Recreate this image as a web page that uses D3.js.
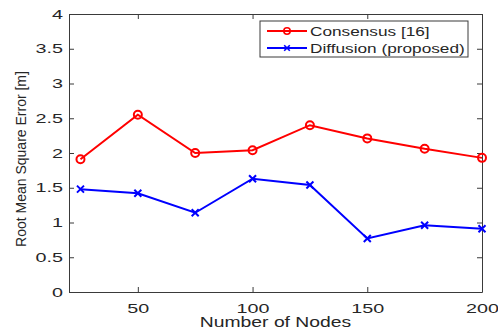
<!DOCTYPE html>
<html>
<head>
<meta charset="utf-8">
<script src="https://cdn.jsdelivr.net/npm/d3@7"></script>
<style>
	body { margin: 0; background: #fff; }
	svg { display: block; font-family: "Liberation Sans", Arial, sans-serif; }
</style>
</head>
<body>
<svg id="chart" width="498" height="332"></svg>
<script>
var aNodes = [25, 50, 75, 100, 125, 150, 175, 200];
var aConsensus = [1.91, 2.55, 2.00, 2.04, 2.40, 2.21, 2.06, 1.93];
var aDiffusion = [1.48, 1.42, 1.14, 1.63, 1.54, 0.77, 0.96, 0.91];
var aXTicks = [50, 100, 150, 200];
var aYTicks = [0, 0.5, 1, 1.5, 2, 2.5, 3, 3.5, 4];
var aSeriesNames = ['Consensus [16]', 'Diffusion (proposed)'];

var sSvg = d3.select('#chart');
var nWidth = 498, nHeight = 332;
var margin = {left: 69, right: 16, top: 14, bottom: 40};
var fStretch = 1.38; // text in the picture is horizontally stretched
var fTickStretch = 1.58;
var strAxisColor = '#3a3a3a';

var x = d3.scaleLinear().domain([20, 200]).range([margin.left, nWidth - margin.right]);
var y = d3.scaleLinear().domain([0, 4]).range([nHeight - margin.bottom, margin.top]);

// axes box with inward ticks
function StyleAxis(g)
{
	g.selectAll('path.domain').attr('stroke', strAxisColor).attr('stroke-width', 1);
	g.selectAll('.tick line').attr('stroke', strAxisColor);
	g.selectAll('.tick text').attr('fill', '#262626').style('font-size', '12.5px');
}

sSvg.append('g')
	.attr('transform', 'translate(0,' + y(0) + ')')
	.call(d3.axisBottom(x).tickValues(aXTicks).tickSize(-5).tickSizeOuter(0).tickPadding(10))
	.call(StyleAxis)
	.call(function(g)
	{
		g.selectAll('.tick text').attr('transform', 'scale(' + fTickStretch + ',1)').attr('dy', '0.85em');
	});

sSvg.append('g')
	.attr('transform', 'translate(0,' + y(4) + ')')
	.call(d3.axisTop(x).tickValues(aXTicks).tickSize(-5).tickSizeOuter(0).tickFormat(''))
	.call(StyleAxis);

sSvg.append('g')
	.attr('transform', 'translate(' + x(20) + ',0)')
	.call(d3.axisLeft(y).tickValues(aYTicks).tickSize(-5).tickSizeOuter(0).tickPadding(0).tickFormat(d3.format('')))
	.call(StyleAxis)
	.call(function(g)
	{
		g.selectAll('.tick text').attr('x', -6 / fTickStretch).attr('transform', 'scale(' + fTickStretch + ',1)');
	});

sSvg.append('g')
	.attr('transform', 'translate(' + x(200) + ',0)')
	.call(d3.axisRight(y).tickValues(aYTicks).tickSize(-5).tickSizeOuter(0).tickFormat(''))
	.call(StyleAxis);

// axis titles
sSvg.append('text')
	.attr('transform', 'translate(' + ((margin.left + nWidth - margin.right) / 2) + ',327) scale(' + fStretch + ',1)')
	.attr('text-anchor', 'middle')
	.attr('fill', '#262626')
	.style('font-size', '14px')
	.text('Number of Nodes');

sSvg.append('text')
	.attr('transform', 'translate(26,159) rotate(-90)')
	.attr('text-anchor', 'middle')
	.attr('fill', '#262626')
	.style('font-size', '14px')
	.text('Root Mean Square Error [m]');

// series
var aSeries = [
	{name: aSeriesNames[0], values: aConsensus, color: '#ff0000', marker: 'circle'},
	{name: aSeriesNames[1], values: aDiffusion, color: '#0000ff', marker: 'cross'}
];

var line = d3.line()
	.x(function(d) { return x(d[0]); })
	.y(function(d) { return y(d[1]); });

function DrawMarker(g, strMarker, strColor)
{
	if (strMarker == 'circle')
	{
		g.append('circle')
			.attr('r', 4)
			.attr('fill', 'none')
			.attr('stroke', strColor)
			.attr('stroke-width', 2);
	}
	else
	{
		g.append('path')
			.attr('d', 'M-3.5,-3.5L3.5,3.5M-3.5,3.5L3.5,-3.5')
			.attr('fill', 'none')
			.attr('stroke', strColor)
			.attr('stroke-width', 2);
	}
}

aSeries.forEach(function(series)
{
	var aPoints = aNodes.map(function(n, i) { return [n, series.values[i]]; });

	sSvg.append('path')
		.datum(aPoints)
		.attr('d', line)
		.attr('fill', 'none')
		.attr('stroke', series.color)
		.attr('stroke-width', 2);

	sSvg.selectAll(null)
		.data(aPoints)
		.enter()
		.append('g')
			.attr('transform', function(d) { return 'translate(' + x(d[0]) + ',' + y(d[1]) + ')'; })
			.each(function() { DrawMarker(d3.select(this), series.marker, series.color); });
});

// legend
var sLegend = sSvg.append('g').attr('transform', 'translate(260,21)');

sLegend.append('rect')
	.attr('width', 208)
	.attr('height', 36)
	.attr('fill', '#fff')
	.attr('stroke', strAxisColor)
	.attr('stroke-width', 1);

aSeries.forEach(function(series, i)
{
	var nRowY = 10 + i * 17;
	var sRow = sLegend.append('g').attr('transform', 'translate(0,' + nRowY + ')');
	sRow.append('line')
		.attr('x1', 7).attr('x2', 47)
		.attr('stroke', series.color)
		.attr('stroke-width', 2);
	DrawMarker(sRow.append('g').attr('transform', 'translate(27,0) scale(0.8)'), series.marker, series.color);
	sRow.append('text')
		.attr('transform', 'translate(50,0) scale(' + (fStretch * 0.96) + ',1)')
		.attr('dy', '0.35em')
		.attr('fill', '#262626')
		.style('font-size', '13px')
		.text(series.name);
});
</script>
</body>
</html>
